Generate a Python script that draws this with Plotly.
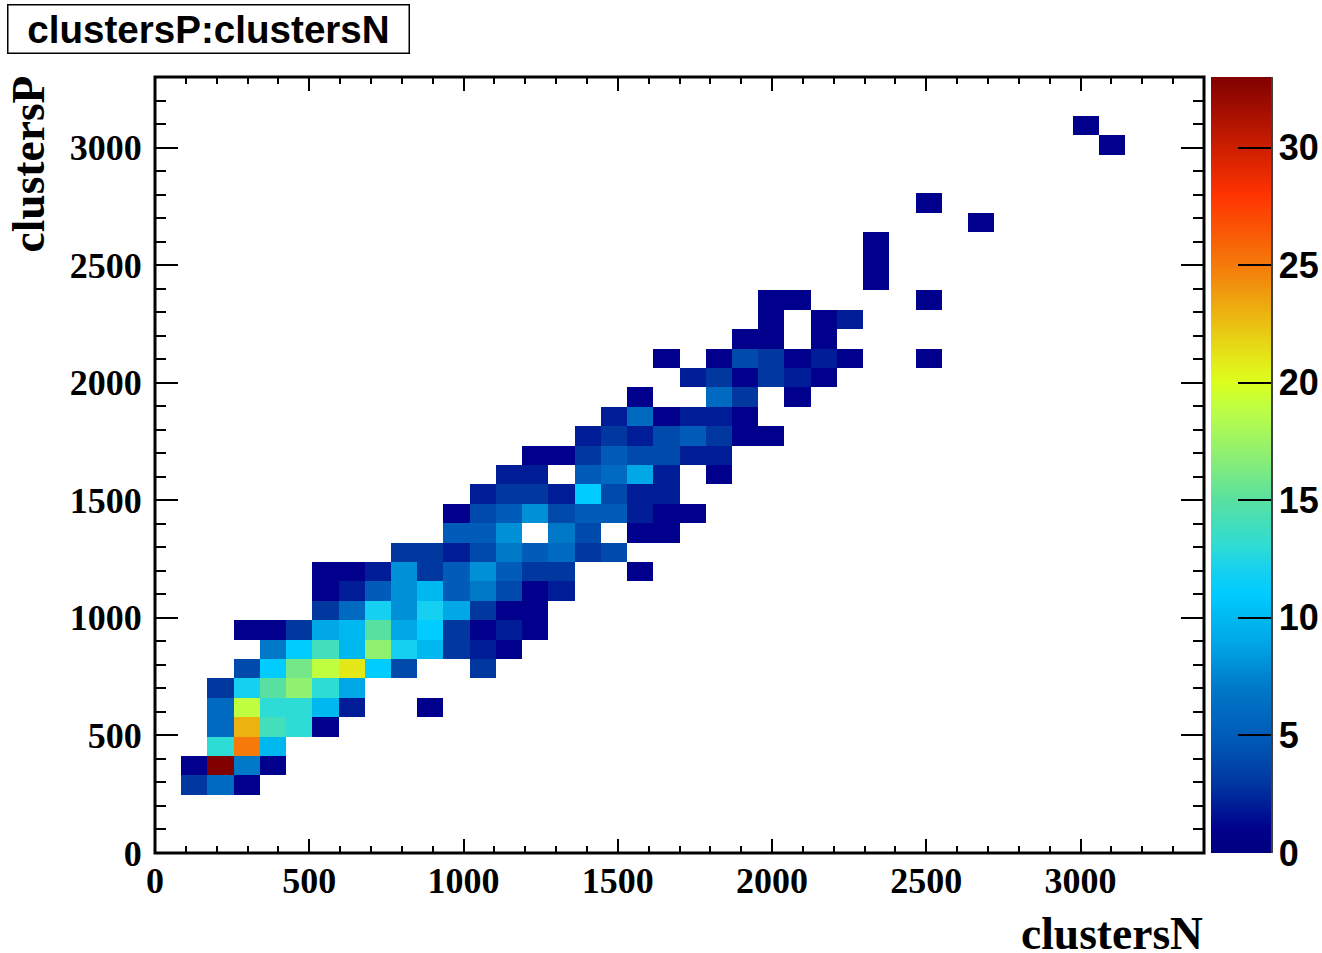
import plotly.graph_objects as go

TITLE = "clustersP:clustersN"
X_LABEL = "clustersN"
Y_LABEL = "clustersP"
BIN_X = 85
BIN_Y = 82.5
N_COLS = 40
N_ROWS = 40

row_03 = {1: 3, 2: 6, 3: 1}
row_04 = {1: 1, 2: 33, 3: 7, 4: 1}
row_05 = {2: 13, 3: 25, 4: 10}
row_06 = {2: 6, 3: 23, 4: 14, 5: 13, 6: 1}
row_07 = {2: 6, 3: 19, 4: 13, 5: 13, 6: 10, 7: 2, 10: 1}
row_08 = {2: 3, 3: 12, 4: 15, 5: 17, 6: 13, 7: 9}
row_09 = {3: 4, 4: 11, 5: 16, 6: 19, 7: 21, 8: 11, 9: 4, 12: 3}
row_10 = {4: 7, 5: 11, 6: 14, 7: 10, 8: 17, 9: 12, 10: 10, 11: 3, 12: 2, 13: 1}
row_11 = {3: 1, 4: 1, 5: 3, 6: 9, 7: 10, 8: 15, 9: 9, 10: 11, 11: 3, 12: 1, 13: 2, 14: 1}
row_12 = {6: 3, 7: 6, 8: 12, 9: 8, 10: 12, 11: 9, 12: 3, 13: 1, 14: 1}
row_13 = {6: 1, 7: 2, 8: 5, 9: 8, 10: 10, 11: 5, 12: 7, 13: 4, 14: 1, 15: 2}
row_14 = {6: 1, 7: 1, 8: 2, 9: 8, 10: 3, 11: 5, 12: 8, 13: 5, 14: 3, 15: 3, 18: 1}
row_15 = {9: 3, 10: 3, 11: 2, 12: 4, 13: 7, 14: 5, 15: 6, 16: 3, 17: 4}
row_16 = {11: 5, 12: 5, 13: 8, 15: 7, 16: 4, 18: 1, 19: 1}
row_17 = {11: 1, 12: 4, 13: 5, 14: 8, 15: 4, 16: 5, 17: 5, 18: 2, 19: 1, 20: 1}
row_18 = {12: 2, 13: 3, 14: 3, 15: 2, 16: 11, 17: 4, 18: 2, 19: 2}
row_19 = {13: 2, 14: 2, 16: 5, 17: 6, 18: 9, 19: 2, 21: 1}
row_20 = {14: 1, 15: 1, 16: 3, 17: 5, 18: 4, 19: 4, 20: 2, 21: 2}
row_21 = {16: 2, 17: 3, 18: 2, 19: 4, 20: 5, 21: 3, 22: 1, 23: 1}
row_22 = {17: 2, 18: 6, 19: 1, 20: 2, 21: 2, 22: 1}
row_23 = {18: 1, 21: 6, 22: 3, 24: 1}
row_24 = {20: 2, 21: 3, 22: 1, 23: 3, 24: 2, 25: 1}
row_25 = {19: 1, 21: 1, 22: 4, 23: 3, 24: 1, 25: 2, 26: 1, 29: 1}
row_26 = {22: 1, 23: 1, 25: 1}
row_27 = {23: 1, 25: 1, 26: 2}
row_28 = {23: 1, 24: 1, 29: 1}
row_29 = {27: 1}
row_30 = {27: 1}
row_31 = {27: 1}
row_32 = {31: 1}
row_33 = {29: 1}
row_36 = {36: 1}
row_37 = {35: 1}

rows = {3: row_03, 4: row_04, 5: row_05, 6: row_06, 7: row_07, 8: row_08, 9: row_09,
        10: row_10, 11: row_11, 12: row_12, 13: row_13, 14: row_14, 15: row_15,
        16: row_16, 17: row_17, 18: row_18, 19: row_19, 20: row_20, 21: row_21,
        22: row_22, 23: row_23, 24: row_24, 25: row_25, 26: row_26, 27: row_27,
        28: row_28, 29: row_29, 30: row_30, 31: row_31, 32: row_32, 33: row_33,
        36: row_36, 37: row_37}

z = [[rows.get(r, {}).get(c) for c in range(N_COLS)] for r in range(N_ROWS)]

ZMAX = 33
stops = [(0, "#000080"), (1, "#00008c"), (3, "#0038a0"), (5, "#005cb8"), (7, "#0078c8"),
         (8, "#0090d8"), (9, "#00a8e8"), (10, "#00b8f0"), (11, "#00ccff"), (12, "#15d0f0"),
         (13, "#2ddcd5"), (15, "#58e0a0"), (17, "#90f070"), (19, "#c0ff40"), (20, "#dcff1e"),
         (21, "#e4e818"), (23, "#ecb210"), (25, "#f57a0a"), (28, "#ff3300"), (33, "#800000")]
colorscale = [[v / ZMAX, c] for v, c in stops]

L, R, T, B = 155, 1204, 77, 853
W, H = 1322, 953
PW, PH = R - L, B - T

fig = go.Figure(go.Heatmap(
    z=z, x0=BIN_X / 2, dx=BIN_X, y0=BIN_Y / 2, dy=BIN_Y,
    zmin=0, zmax=ZMAX, colorscale=colorscale, hoverongaps=False,
    colorbar=dict(
        x=(1211 - L) / PW, xanchor="left", xref="paper",
        y=0, yanchor="bottom", len=1, lenmode="fraction", ypad=0, xpad=0,
        thickness=60, thicknessmode="pixels", outlinewidth=0,
        tick0=0, dtick=5, ticks="inside", ticklen=33, tickwidth=1.5, tickcolor="#000",
        tickfont=dict(family="Liberation Sans", size=36, color="#000", weight="bold"),
        ticklabelposition="outside",
    ),
))

axis = dict(showgrid=False, zeroline=False, showline=True, linewidth=1, linecolor="#000", mirror="allticks",
            ticks="inside", tick0=0, dtick=500, tickcolor="#000",
            tickfont=dict(family="Liberation Serif", size=36, color="#000", weight="bold"))

fig.update_xaxes(range=[0, 3400], ticklen=14, tickwidth=1.5, ticklabelstandoff=-4,
                 minor=dict(ticks="inside", dtick=100, ticklen=7, tickwidth=1.5, tickcolor="#000", showgrid=False),
                 **axis)
fig.update_yaxes(range=[0, 3300], ticklen=23, tickwidth=1.5, ticklabelstandoff=5,
                 minor=dict(ticks="inside", dtick=100, ticklen=11, tickwidth=1.5, tickcolor="#000", showgrid=False),
                 **axis)

fig.add_annotation(text=TITLE, xref="paper", yref="paper",
                   x=(6.5 - L) / PW, y=(B - 53.5) / PH, xanchor="left", yanchor="bottom",
                   showarrow=False, width=400, height=47, align="center", valign="middle",
                   bordercolor="#000", borderwidth=1.5, borderpad=0, bgcolor="#fff",
                   font=dict(family="Liberation Sans", size=38.6, color="#000", weight="bold"))
fig.add_annotation(text=X_LABEL, xref="paper", yref="paper",
                   x=(1205 - L) / PW, y=(B - 933) / PH, xanchor="right", yanchor="middle",
                   showarrow=False, height=38, valign="middle",
                   font=dict(family="Liberation Serif", size=45.5, color="#000", weight="bold"))
fig.add_annotation(text=Y_LABEL, xref="paper", yref="paper",
                   x=(28 - L) / PW, y=(B - 74) / PH, xanchor="center", yanchor="top",
                   textangle=-90, showarrow=False,
                   font=dict(family="Liberation Serif", size=45.5, color="#000", weight="bold"))

fig.add_shape(type="rect", xref="paper", yref="paper", x0=0, x1=1, y0=0, y1=1,
              line=dict(color="#000", width=3), fillcolor="rgba(0,0,0,0)", layer="above")
fig.add_shape(type="line", xref="paper", yref="paper", x0=(1272 - L) / PW, x1=(1272 - L) / PW,
              y0=0, y1=1, line=dict(color="#000", width=1.5))

fig.update_layout(width=W, height=H, autosize=False,
                  margin=dict(l=L, r=W - R, t=T, b=H - B, pad=0, autoexpand=False),
                  paper_bgcolor="#fff", plot_bgcolor="#fff", showlegend=False)

fig.write_html("out.html", config={"displayModeBar": False},
               default_width="1322px", default_height="953px",
               post_script="document.body.style.margin='0';document.body.style.overflow='hidden';")
